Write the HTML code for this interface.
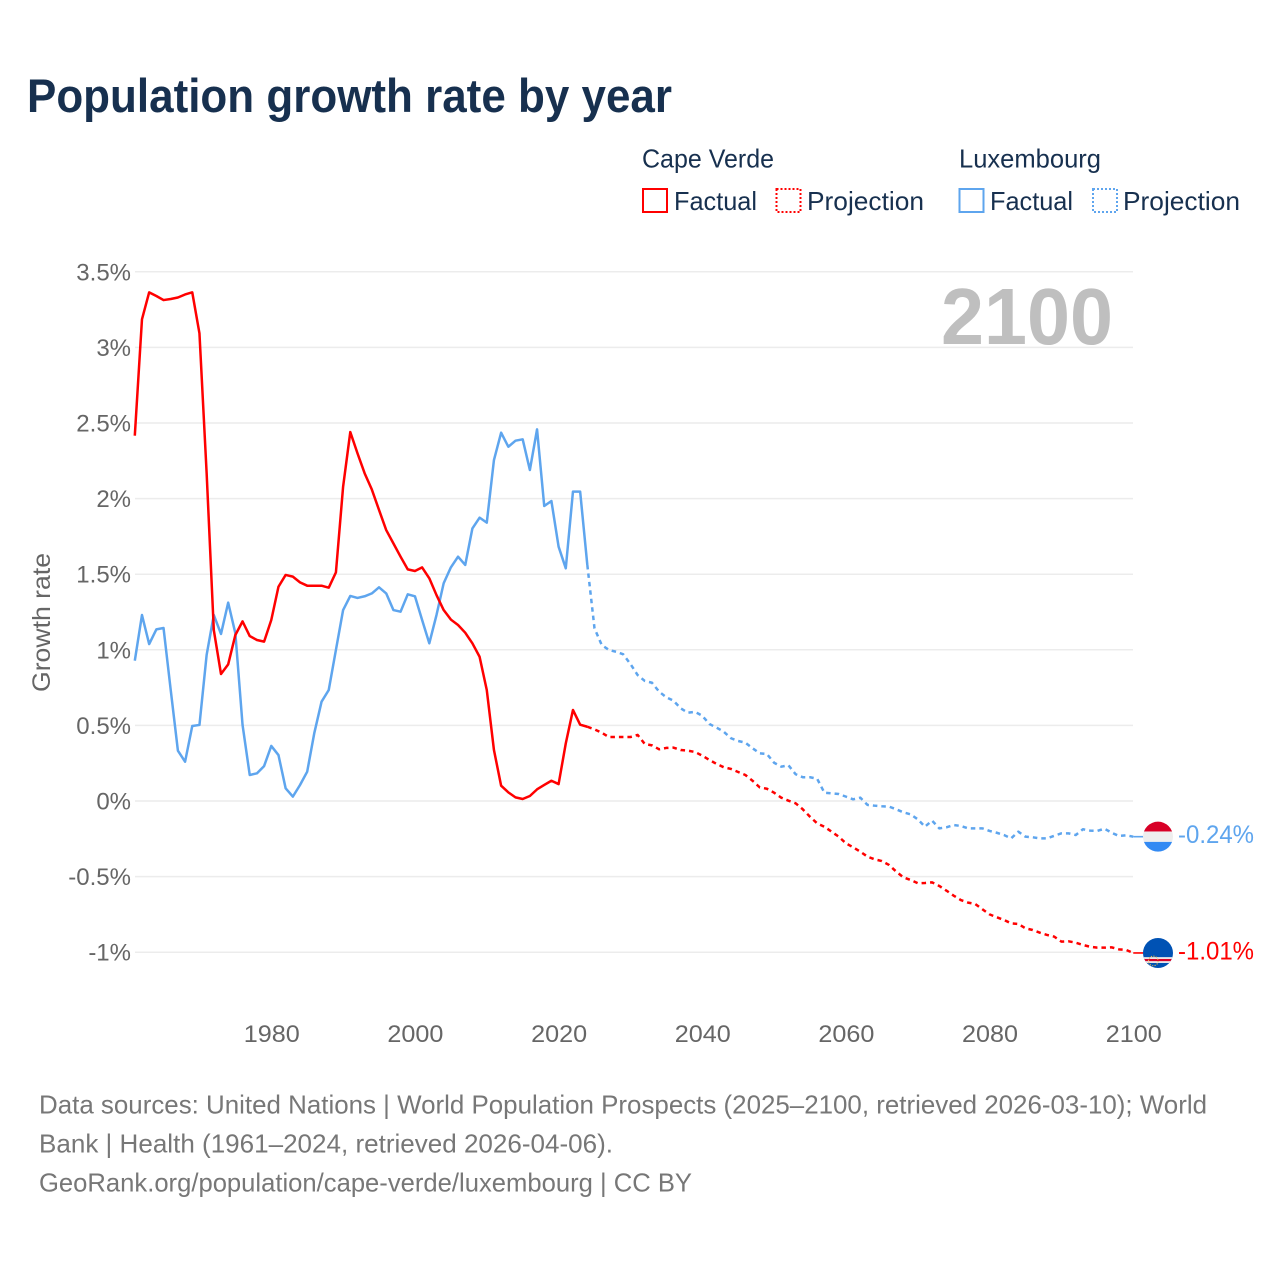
<!DOCTYPE html>
<html lang="en">
<head>
<meta charset="utf-8">
<title>Population growth rate by year</title>
<style>
html,body{margin:0;padding:0;background:#fff;}
svg{display:block;font-family:"Liberation Sans",Arial,sans-serif;}
</style>
</head>
<body>
<svg id="chart" xmlns="http://www.w3.org/2000/svg" width="1280" height="1280" viewBox="0 0 1280 1280">
  <rect width="1280" height="1280" fill="#fff"/>
  <text x="27" y="112" font-size="47" font-weight="700" fill="#17304f" textLength="645" lengthAdjust="spacingAndGlyphs">Population growth rate by year</text>

  <g font-size="26" fill="#17304f">
    <text x="642" y="167.5" textLength="132" lengthAdjust="spacingAndGlyphs">Cape Verde</text>
    <text x="959" y="167.5" textLength="142" lengthAdjust="spacingAndGlyphs">Luxembourg</text>
    <rect x="643" y="189" width="24" height="23" fill="none" stroke="#ff0000" stroke-width="2"/>
    <text x="674" y="210" textLength="83" lengthAdjust="spacingAndGlyphs">Factual</text>
    <rect x="776.5" y="189" width="24" height="23" fill="none" stroke="#ff0000" stroke-width="2" stroke-dasharray="2 2"/>
    <text x="807" y="210" textLength="117" lengthAdjust="spacingAndGlyphs">Projection</text>
    <rect x="959.5" y="189" width="24" height="23" fill="none" stroke="#5ea5ee" stroke-width="2"/>
    <text x="990" y="210" textLength="83" lengthAdjust="spacingAndGlyphs">Factual</text>
    <rect x="1093" y="189" width="24" height="23" fill="none" stroke="#5ea5ee" stroke-width="2" stroke-dasharray="2 2"/>
    <text x="1123" y="210" textLength="117" lengthAdjust="spacingAndGlyphs">Projection</text>
  </g>

  <g id="grid"></g>
  <g id="yticks" font-size="24" fill="#666" text-anchor="end"></g>
  <g id="xticks" font-size="24.5" fill="#666" text-anchor="middle"></g>
  <text transform="translate(50,692) rotate(-90)" font-size="25" fill="#666" textLength="139" lengthAdjust="spacingAndGlyphs">Growth rate</text>
  <text x="941" y="344" font-size="80" font-weight="700" fill="#bfbfbf" textLength="172" lengthAdjust="spacingAndGlyphs">2100</text>

  <g id="series"></g>

  <defs>
    <clipPath id="flag-clip"><circle cx="0" cy="0" r="15"/></clipPath>
  </defs>
  <g id="flag-lu" clip-path="url(#flag-clip)">
    <rect x="-16" y="-16" width="32" height="10.8" fill="#d80027"/>
    <rect x="-16" y="-5.2" width="32" height="10.4" fill="#eeeeee"/>
    <rect x="-16" y="5.2" width="32" height="11" fill="#338af3"/>
  </g>
  <g id="flag-cv" clip-path="url(#flag-clip)">
    <rect x="-16" y="-16" width="32" height="32" fill="#0052b4"/>
    <rect x="-16" y="4.2" width="32" height="5.8" fill="#eeeeee"/>
    <rect x="-16" y="6" width="32" height="2.2" fill="#d80027"/>
    <circle cx="-4.7" cy="8" r="4.8" fill="none" stroke="#e6b84a" stroke-width="1.1" stroke-dasharray="1.2 1.3"/>
  </g>
  <g id="end-labels" font-size="25"></g>

  <g font-size="26" fill="#777">
    <text x="39" y="1113.5" textLength="1168" lengthAdjust="spacingAndGlyphs">Data sources: United Nations | World Population Prospects (2025–2100, retrieved 2026-03-10); World</text>
    <text x="39" y="1152.5" textLength="574" lengthAdjust="spacingAndGlyphs">Bank | Health (1961–2024, retrieved 2026-04-06).</text>
    <text x="39" y="1191.5" textLength="653" lengthAdjust="spacingAndGlyphs">GeoRank.org/population/cape-verde/luxembourg | CC BY</text>
  </g>
</svg>

<script>
const yTickValues = [3.5, 3, 2.5, 2, 1.5, 1, 0.5, 0, -0.5, -1];
const xTickYears = [1980, 2000, 2020, 2040, 2060, 2080, 2100];
const factualStartYear = 1961;
const projectionStartYear = 2024;

const capeVerdeFactual = [
  2.416, 3.186, 3.364, 3.340, 3.313, 3.320, 3.330, 3.350, 3.364, 3.093,
  2.170, 1.130, 0.840, 0.904, 1.098, 1.188, 1.091, 1.065, 1.054, 1.197,
  1.417, 1.495, 1.484, 1.446, 1.424, 1.424, 1.424, 1.411, 1.512, 2.079,
  2.440, 2.300, 2.167, 2.060, 1.925, 1.792, 1.704, 1.616, 1.532, 1.521,
  1.545, 1.473, 1.362, 1.263, 1.200, 1.164, 1.113, 1.043, 0.954, 0.734,
  0.337, 0.101, 0.057, 0.024, 0.013, 0.033, 0.077, 0.106, 0.134, 0.112,
  0.381, 0.602, 0.505, 0.491
];
const capeVerdeProjection = [
  0.491, 0.474, 0.452, 0.423, 0.423, 0.423, 0.423, 0.437, 0.377, 0.368,
  0.342, 0.351, 0.353, 0.337, 0.333, 0.324, 0.300, 0.271, 0.245, 0.223,
  0.212, 0.192, 0.172, 0.134, 0.090, 0.081, 0.055, 0.022, 0.002, -0.015,
  -0.055, -0.104, -0.148, -0.170, -0.203, -0.236, -0.280, -0.306, -0.335, -0.368,
  -0.386, -0.397, -0.423, -0.467, -0.505, -0.522, -0.544, -0.542, -0.538, -0.562,
  -0.593, -0.626, -0.655, -0.672, -0.681, -0.716, -0.750, -0.769, -0.787, -0.809,
  -0.813, -0.842, -0.853, -0.871, -0.886, -0.897, -0.930, -0.928, -0.937, -0.952,
  -0.964, -0.970, -0.970, -0.968, -0.981, -0.985, -1.005
];
const luxembourgFactual = [
  0.928, 1.230, 1.038, 1.135, 1.144, 0.734, 0.333, 0.260, 0.496, 0.503,
  0.966, 1.230, 1.105, 1.312, 1.109, 0.503, 0.172, 0.183, 0.231, 0.364,
  0.304, 0.084, 0.029, 0.106, 0.194, 0.452, 0.657, 0.734, 0.999, 1.263,
  1.356, 1.343, 1.354, 1.373, 1.413, 1.373, 1.263, 1.252, 1.367, 1.354,
  1.197, 1.043, 1.230, 1.440, 1.545, 1.616, 1.561, 1.803, 1.874, 1.841,
  2.255, 2.436, 2.343, 2.383, 2.392, 2.189, 2.458, 1.951, 1.984, 1.682,
  1.539, 2.046, 2.046, 1.561
];
const luxembourgProjection = [
  1.561, 1.142, 1.032, 0.999, 0.987, 0.970, 0.906, 0.833, 0.794, 0.782,
  0.723, 0.686, 0.663, 0.613, 0.584, 0.589, 0.564, 0.509, 0.485, 0.458,
  0.415, 0.397, 0.386, 0.349, 0.315, 0.311, 0.253, 0.227, 0.236, 0.177,
  0.157, 0.157, 0.147, 0.055, 0.051, 0.046, 0.029, 0.011, 0.022, -0.026,
  -0.031, -0.035, -0.037, -0.055, -0.075, -0.088, -0.121, -0.170, -0.130, -0.181,
  -0.174, -0.159, -0.165, -0.181, -0.181, -0.181, -0.198, -0.210, -0.225, -0.247,
  -0.203, -0.236, -0.240, -0.247, -0.247, -0.230, -0.214, -0.214, -0.225, -0.187,
  -0.196, -0.198, -0.183, -0.210, -0.231, -0.227, -0.236
];
const endValueLabels = ["-1.01%", "-0.24%"];

const RED = "#ff0000";
const BLUE = "#5ea5ee";
const NS = "http://www.w3.org/2000/svg";

function xScale(year) { return 134.8 + (year - 1961) * 7.183; }
function yScale(value) { return 801 - value * 151.2; }
function make(tag, attrs, parent) {
  const el = document.createElementNS(NS, tag);
  for (const k in attrs) el.setAttribute(k, attrs[k]);
  parent.appendChild(el);
  return el;
}
function pathFor(values, startYear) {
  return values.map((v, i) =>
    (i ? "L" : "M") + xScale(startYear + i).toFixed(2) + " " + yScale(v).toFixed(2)
  ).join(" ");
}

const gridLayer = document.getElementById("grid");
const yTickLayer = document.getElementById("yticks");
yTickValues.forEach(v => {
  const line = make("line", { x1: 135, x2: 1133, y1: yScale(v), y2: yScale(v), stroke: "#ececec", "stroke-width": 1.5 }, gridLayer);
  
  
  const t = make("text", { x: 131, y: yScale(v) + 8.5 }, yTickLayer);
  
  
  t.textContent = v + "%";
});

const xTickLayer = document.getElementById("xticks");
xTickYears.forEach(year => {
  const t = make("text", { x: xScale(year) + 0.5, y: 1042, textLength: 56, lengthAdjust: "spacingAndGlyphs" }, xTickLayer);
  
  
  t.textContent = year;
});

const seriesLayer = document.getElementById("series");
function drawSeries(values, startYear, color, dashed, name) {
  const p = make("path", { d: pathFor(values, startYear), fill: "none", stroke: color, "stroke-width": 2.5, "stroke-linejoin": "round" }, seriesLayer);
  if (dashed) p.setAttribute("stroke-dasharray", "4.5 4");
  
  
}
drawSeries(luxembourgFactual, factualStartYear, BLUE, false, "luxembourg-factual-line");
drawSeries(luxembourgProjection, projectionStartYear, BLUE, true, "luxembourg-projection-line");
drawSeries(capeVerdeFactual, factualStartYear, RED, false, "cape-verde-factual-line");
drawSeries(capeVerdeProjection, projectionStartYear, RED, true, "cape-verde-projection-line");

const lastYear = xTickYears[xTickYears.length - 1];
const flagX = 1158;
const labelLayer = document.getElementById("end-labels");
function drawEnd(values, color, flagId, labelText, name) {
  const last = values[values.length - 1];
  const yy = yScale(last);
  const c = make("line", { x1: xScale(lastYear), x2: flagX - 14, y1: yy, y2: yy, stroke: color, "stroke-width": 1.6 }, seriesLayer);
  
  
  document.getElementById(flagId).setAttribute("transform", "translate(" + flagX + "," + yy + ")");
  const t = make("text", { x: 1178, y: yy + 6.3, fill: color, textLength: 76, lengthAdjust: "spacingAndGlyphs" }, labelLayer);
  
  
  t.textContent = labelText;
}
drawEnd(capeVerdeProjection, RED, "flag-cv", endValueLabels[0], "cape-verde");
drawEnd(luxembourgProjection, BLUE, "flag-lu", endValueLabels[1], "luxembourg");
</script>
</body>
</html>
